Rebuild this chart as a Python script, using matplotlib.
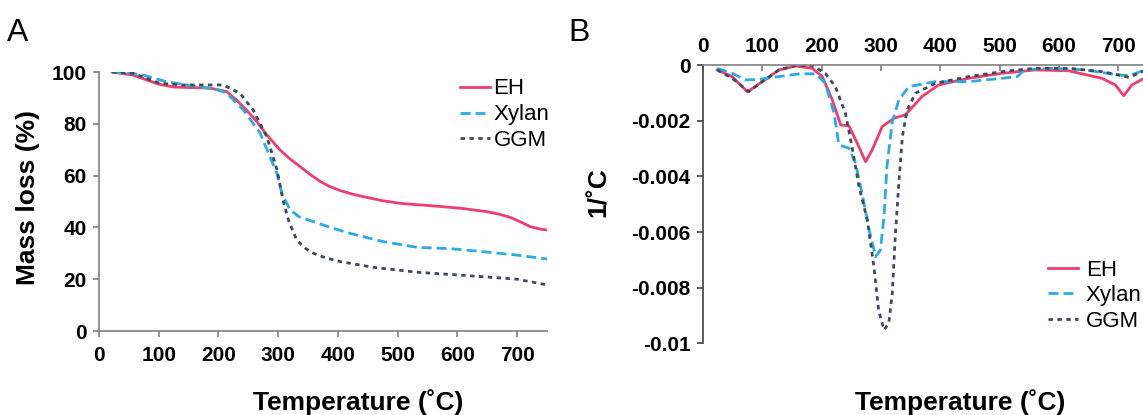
import matplotlib
matplotlib.use('Agg')
import matplotlib.pyplot as plt
import numpy as np

plt.rcParams['font.family'] = ['Liberation Sans', 'DejaVu Sans']

# Panel A: TGA mass loss (%)
ta_eh = [22, 57, 84, 100, 125, 150, 185, 214, 230, 247, 265, 281, 303, 320, 337, 355, 370, 385, 404, 425, 448, 475, 504, 530, 560, 605, 649, 670, 688, 705, 722, 740, 750]
ma_eh = [100, 98.8, 96.6, 95.3, 94.2, 94.0, 93.8, 92.4, 89.2, 85.3, 80.6, 75.7, 69.9, 66.4, 63.4, 60.2, 57.8, 55.9, 54.2, 52.8, 51.6, 50.3, 49.3, 48.8, 48.3, 47.4, 46.1, 45.1, 43.9, 42.2, 40.3, 39.3, 39.0]

ta_xy = [22, 50, 74, 112, 156, 197, 214, 242, 270, 286, 298, 306, 320, 335, 359, 390, 420, 476, 532, 588, 644, 700, 750]
ma_xy = [100, 99.6, 98.8, 96.3, 94.6, 93.3, 91.8, 85.3, 76.3, 67.3, 60.9, 53.2, 46.7, 44.1, 42.2, 39.8, 37.7, 34.5, 32.3, 31.8, 30.6, 29.3, 27.8]

ta_gg = [22, 57, 102, 142, 208, 236, 258, 281, 298, 308, 317, 331, 345, 359, 380, 404, 459, 532, 616, 700, 750]
ma_gg = [100, 99.5, 95.6, 95.0, 95.0, 91.8, 85.3, 75.0, 62.2, 50.6, 42.9, 35.1, 32.0, 30.0, 28.2, 26.8, 24.6, 22.7, 21.4, 20.0, 17.8]

# Panel B: DTG (values in 1e-3 1/C)
tb_eh = [24, 49, 75, 100, 128, 156, 184, 201, 218, 232, 246, 260, 274, 285, 302, 322, 341, 369, 397, 448, 504, 560, 616, 672, 695, 709, 723, 740, 750]
db_eh = [-0.16, -0.40, -0.95, -0.58, -0.16, -0.02, -0.10, -0.40, -1.24, -2.14, -2.18, -2.80, -3.47, -3.05, -2.20, -1.90, -1.78, -1.12, -0.70, -0.46, -0.28, -0.16, -0.19, -0.46, -0.70, -1.09, -0.70, -0.50, -0.45]

tb_xy = [24, 49, 72, 95, 128, 162, 190, 206, 221, 229, 246, 257, 268, 280, 291, 299, 305, 310, 319, 330, 347, 392, 448, 504, 530, 541, 588, 644, 700, 718, 740, 750]
db_xy = [-0.10, -0.28, -0.52, -0.50, -0.40, -0.30, -0.30, -0.64, -1.72, -2.86, -2.98, -3.52, -4.60, -5.93, -6.89, -6.65, -5.45, -3.65, -2.03, -1.24, -0.76, -0.58, -0.58, -0.46, -0.40, -0.16, -0.10, -0.16, -0.34, -0.37, -0.20, -0.15]

tb_gg = [24, 49, 77, 100, 128, 156, 184, 206, 223, 240, 251, 263, 277, 288, 296, 305, 313, 319, 324, 330, 336, 344, 358, 392, 448, 504, 560, 616, 672, 700, 718, 740, 750]
db_gg = [-0.16, -0.46, -0.94, -0.58, -0.16, 0.0, 0.0, -0.28, -0.76, -1.72, -2.92, -4.37, -5.57, -7.25, -8.81, -9.53, -9.29, -8.21, -6.17, -4.25, -2.57, -1.60, -1.00, -0.64, -0.40, -0.22, -0.10, -0.10, -0.22, -0.34, -0.43, -0.22, -0.18]

labels = ['EH', 'Xylan', 'GGM']
colors = ['#EE3D6E', '#29ACE3', '#3E4A5E']
dashes = [None, (3.6, 1.8), (1.6, 1.6)]

yticks_b = [0, -0.002, -0.004, -0.006, -0.008, -0.01]
yticklabels_b = ['0', '-0.002', '-0.004', '-0.006', '-0.008', '-0.01']

fig = plt.figure(figsize=(11.43, 4.15), dpi=100)
axA = fig.add_axes([99/1143, 84/415, 448/1143, 259/415])
axB = fig.add_axes([703/1143, 72/415, 445/1143, 277.5/415])

lw = 2.0
series_a = [(ta_eh, ma_eh), (ta_xy, ma_xy), (ta_gg, ma_gg)]
for (t, m), lab, c, d in zip(series_a, labels, colors, dashes):
    ln, = axA.plot(t, m, color=c, lw=lw, label=lab)
    if d:
        ln.set_dashes(d)

series_b = [(tb_eh, db_eh), (tb_xy, db_xy), (tb_gg, db_gg)]
for (t, v), lab, c, d in zip(series_b, labels, colors, dashes):
    ln, = axB.plot(t, np.array(v) * 1e-3, color=c, lw=lw, label=lab)
    if d:
        ln.set_dashes(d)

label_font = dict(fontsize=19, fontweight='bold')

# panel A axes
axA.set_xlim(0, 750)
axA.set_ylim(0, 100)
axA.set_xticks(range(0, 800, 100))
axA.set_yticks(range(0, 120, 20))
for s in ['top', 'right']:
    axA.spines[s].set_visible(False)
for s in ['left', 'bottom']:
    axA.spines[s].set_color('#808080')
    axA.spines[s].set_linewidth(1.2)
axA.tick_params(direction='out', length=4, width=1.2, color='#808080')
axA.tick_params(axis='x', pad=7)
axA.tick_params(axis='y', pad=5)
for t in axA.get_xticklabels() + axA.get_yticklabels():
    t.set_fontsize(15)
    t.set_fontweight('bold')
axA.set_xlabel('Temperature (˚C)', va='center', **label_font)
axA.xaxis.set_label_coords(0.578, -0.274)
axA.set_ylabel('Mass loss (%)', va='center', **label_font)
axA.yaxis.set_label_coords(-0.158, 0.517)
axA.legend(loc='upper left', bbox_to_anchor=(0.806, 0.975), frameon=False,
           fontsize=16, handlelength=1.35, handletextpad=0.15,
           labelspacing=0.22, borderpad=0, borderaxespad=0)

# panel B axes
axB.set_xlim(0, 750)
axB.set_ylim(-0.01, 0)
axB.xaxis.tick_top()
axB.set_xticks(range(0, 800, 100))
axB.set_yticks(yticks_b)
axB.set_yticklabels(yticklabels_b)
for s in ['bottom', 'right']:
    axB.spines[s].set_visible(False)
axB.spines['top'].set_color('#808080')
axB.spines['left'].set_color('#404040')
axB.spines['top'].set_linewidth(1.2)
axB.spines['left'].set_linewidth(1.2)
axB.tick_params(axis='x', direction='in', length=4, width=1.2, color='#808080', pad=7)
axB.tick_params(axis='y', direction='out', length=4, width=1.2, color='#404040', pad=5)
for t in axB.get_xticklabels() + axB.get_yticklabels():
    t.set_fontsize(15)
    t.set_fontweight('bold')
axB.xaxis.set_label_position('bottom')
axB.set_xlabel('Temperature (˚C)', va='center', **label_font)
axB.xaxis.set_label_coords(0.578, -0.213)
axB.set_ylabel('1/˚C', va='center', **label_font)
axB.yaxis.set_label_coords(-0.235, 0.544)
axB.legend(loc='upper left', bbox_to_anchor=(0.775, 0.30), frameon=False,
           fontsize=16, handlelength=1.35, handletextpad=0.35,
           labelspacing=0.2, borderpad=0, borderaxespad=0)

fig.text(7/1143, 1 - 41/415, 'A', fontsize=23, va='baseline', ha='left')
fig.text(568/1143, 1 - 41/415, 'B', fontsize=23, va='baseline', ha='left')

fig.savefig('out.png', dpi=100)
plt.close(fig)
